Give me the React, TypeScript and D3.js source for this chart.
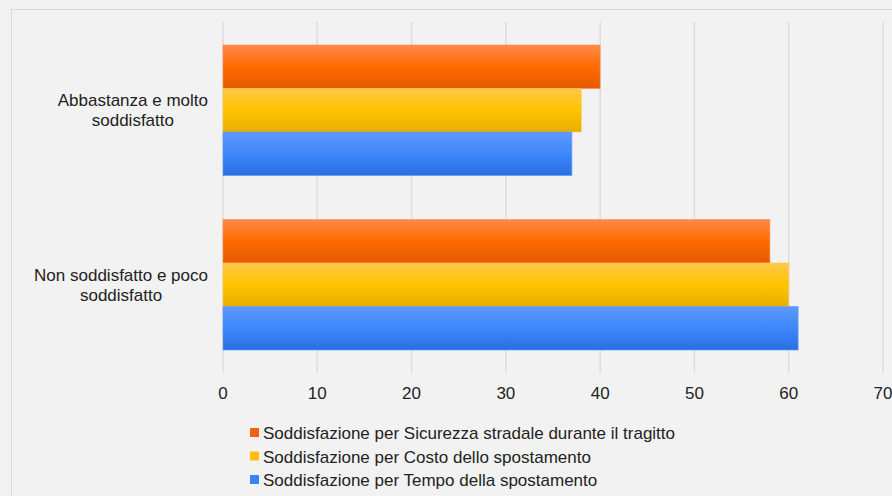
import * as d3 from "d3";
import React from "react";

const categories = ["Abbastanza e molto soddisfatto", "Non soddisfatto e poco soddisfatto"];
const categoryLines = [
  ["Abbastanza e molto", "soddisfatto"],
  ["Non soddisfatto e poco", "soddisfatto"],
];
const seriesNames = [
  "Soddisfazione per Sicurezza stradale durante il tragitto",
  "Soddisfazione per Costo dello spostamento",
  "Soddisfazione per Tempo della spostamento",
];
const sicurezza = [40, 58];
const costo = [38, 60];
const tempo = [37, 61];
const xTicks = [0, 10, 20, 30, 40, 50, 60, 70];

const seriesValues = [sicurezza, costo, tempo];

const palette = [
  { top: "#ff8a4a", mid: "#ff6a00", bot: "#e35a00", key: "#f26111" },
  { top: "#ffc84a", mid: "#ffc400", bot: "#e6ae00", key: "#ffbf00" },
  { top: "#5f98fa", mid: "#3d87fb", bot: "#2a6fe0", key: "#3b82f6" },
];

const W = 892;
const H = 496;
const margin = { top: 23, left: 223 };

export default function App() {
  const innerW = 883 - margin.left;
  const innerH = 372 - margin.top;
  const labelRefs = React.useRef<(SVGTextElement | null)[]>([]);
  const [labelW, setLabelW] = React.useState<number[]>([150, 175]);

  React.useLayoutEffect(() => {
    const ws = labelRefs.current.map((el) => (el ? el.getBBox().width : 0));
    if (ws.some((w, i) => Math.abs(w - labelW[i]) > 0.5)) setLabelW(ws);
  }, []);

  const x = d3.scaleLinear().domain([0, 70]).range([0, innerW]);
  const yb = d3.scaleBand<string>().domain(categories).range([0, innerH]);
  const groupPad = 22;
  const y1 = d3.scaleBand<number>().domain([0, 1, 2]).range([groupPad, yb.bandwidth() - groupPad]);

  const font = "'Liberation Sans', Arial, sans-serif";
  const fs = 17;
  const labelGap = 15;

  return (
    <svg
      width={W}
      height={H}
      style={{ position: "fixed", left: 0, top: 0, background: "#f2f2f2" }}
      fontFamily={font}
    >
      <defs>
        {palette.map((p, i) => (
          <linearGradient key={i} id={`g${i}`} x1="0" x2="0" y1="0" y2="1">
            <stop offset="0%" stopColor={p.top} />
            <stop offset="50%" stopColor={p.mid} />
            <stop offset="100%" stopColor={p.bot} />
          </linearGradient>
        ))}
      </defs>
      <rect x={0} y={0} width={W} height={H} fill="#f2f2f2" />
      <rect x={11.5} y={9.5} width={W + 20} height={H + 20} fill="#f2f2f2" stroke="#d9d9d9" strokeWidth={1} />
      <g transform={`translate(${margin.left},${margin.top})`}>
        {xTicks.map((t) => (
          <g key={t}>
            <line x1={x(t)} x2={x(t)} y1={-1} y2={innerH + 1} stroke="#dcdcdc" strokeWidth={1.5} />
            <text x={x(t)} y={innerH + 27} textAnchor="middle" fontSize={fs} fill="#222">
              {t}
            </text>
          </g>
        ))}
        {categories.map((c, ci) => {
          const cx = -labelGap - labelW[ci] / 2;
          return (
            <g key={c} transform={`translate(0,${yb(c)})`}>
              {seriesValues.map((vals, si) => (
                <rect
                  key={si}
                  x={x(0)}
                  y={y1(si)}
                  width={x(vals[ci]) - x(0)}
                  height={y1.bandwidth()}
                  fill={`url(#g${si})`}
                  stroke={palette[si].top}
                  strokeOpacity={0.6}
                  strokeWidth={1}
                />
              ))}
              <text
                ref={(el) => {
                  labelRefs.current[ci] = el;
                }}
                textAnchor="middle"
                fontSize={fs}
                fill="#222"
                x={cx}
              >
                {categoryLines[ci].map((l, li) => (
                  <tspan key={li} x={cx} y={yb.bandwidth() / 2 - 4 + li * 20}>
                    {l}
                  </tspan>
                ))}
              </text>
            </g>
          );
        })}
      </g>
      <g transform="translate(250,433)">
        {seriesNames.map((s, i) => (
          <g key={s} transform={`translate(0,${i * 23.5})`}>
            <rect x={0} y={-5} width={9} height={9} fill={palette[i].key} />
            <text x={13} y={6} fontSize={fs} fill="#222">
              {s}
            </text>
          </g>
        ))}
      </g>
    </svg>
  );
}
